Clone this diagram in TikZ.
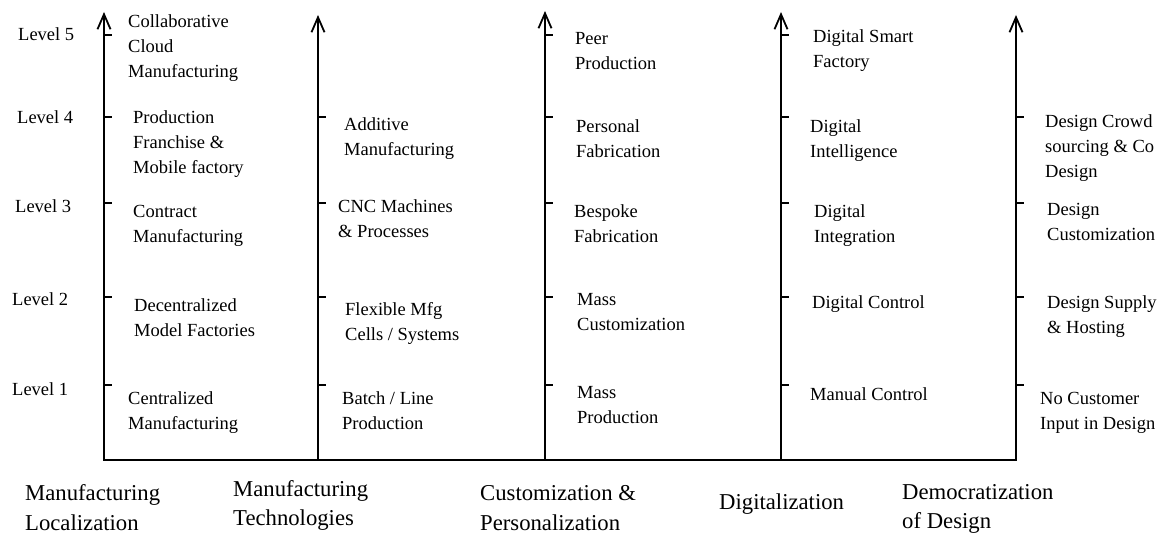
\documentclass[tikz,border=0pt]{standalone}
\usepackage{fontspec}
\setmainfont{Liberation Serif}
\newfontfamily\tnr{Liberation Serif}
\usetikzlibrary{arrows.meta}
\newcommand\stk[2][25]{\vtop{\baselineskip=#1pt\lineskiplimit=-30pt\lineskip=0pt\halign{##\hfil\cr#2\cr}}}
\begin{document}
\begin{tikzpicture}[x=1pt,y=-1pt,
  axisline/.style={line width=1.8pt,-{Straight Barb[length=15pt,width=13pt]}},
  baseline axis/.style={line width=1.8pt,line cap=rect},
  tickmark/.style={line width=1.4pt},
  lbl/.style={anchor=base west,inner sep=0pt,font=\tnr\fontsize{18.5}{25}\selectfont},
  cat/.style={anchor=base west,inner sep=0pt,font=\tnr\fontsize{22.7}{30}\selectfont}]
\useasboundingbox (0,0) rectangle (1162,535);
% axes
\coordinate (b1) at (104,460); \coordinate (t1) at (104,12);
\coordinate (b2) at (318,460); \coordinate (t2) at (318,15);
\coordinate (b3) at (545,460); \coordinate (t3) at (545,11);
\coordinate (b4) at (781,460); \coordinate (t4) at (781,12);
\coordinate (b5) at (1016,460); \coordinate (t5) at (1016,15);
\draw[baseline axis] (b1) -- (b5);
\foreach \i in {1,...,5}{\draw[axisline] (b\i) -- (t\i);}
% ticks
\foreach \y in {35,117,203,297,385}{\draw[tickmark] (b1 |- 0,\y) -- ++(8,0);}
\foreach \y in {117,203,297,385}{\draw[tickmark] (b2 |- 0,\y) -- ++(8,0);}
\foreach \y in {35,117,203,297,385}{\draw[tickmark] (b3 |- 0,\y) -- ++(8,0);}
\foreach \y in {35,117,203,297,385}{\draw[tickmark] (b4 |- 0,\y) -- ++(8,0);}
\foreach \y in {117,203,297,385}{\draw[tickmark] (b5 |- 0,\y) -- ++(8,0);}
% level labels
\node[lbl] (l5) at (18,41) {Level 5};
\node[lbl] (l4) at (17,123) {Level 4};
\node[lbl] (l3) at (15,212) {Level 3};
\node[lbl] (l2) at (12,305) {Level 2};
\node[lbl] (l1) at (12,395) {Level 1};
% column 1
\node[lbl] (a5) at (128,28) {\stk{Collaborative\cr Cloud\cr Manufacturing}};
\node[lbl] (a4) at (133,123) {\stk{Production\cr Franchise \&\cr Mobile factory}};
\node[lbl] (a3) at (133,217) {\stk{Contract\cr Manufacturing}};
\node[lbl] (a2) at (134,311) {\stk{Decentralized\cr Model Factories}};
\node[lbl] (a1) at (128,404) {\stk{Centralized\cr Manufacturing}};
% column 2
\node[lbl] (c4) at (344,130) {\stk{Additive\cr Manufacturing}};
\node[lbl] (c3) at (338,212) {\stk{CNC Machines\cr \& Processes}};
\node[lbl] (c2) at (345,315) {\stk{Flexible Mfg\cr Cells / Systems}};
\node[lbl] (c1) at (342,404) {\stk{Batch / Line\cr Production}};
% column 3
\node[lbl] (d5) at (575,45) {\stk{Peer\cr Production}};
\node[lbl] (d4) at (576,132) {\stk{Personal\cr Fabrication}};
\node[lbl] (d3) at (574,217) {\stk{Bespoke\cr Fabrication}};
\node[lbl] (d2) at (577,305) {\stk{Mass\cr Customization}};
\node[lbl] (d1) at (577,398) {\stk{Mass\cr Production}};
% column 4
\node[lbl] (e5) at (813,43) {\stk{Digital Smart\cr Factory}};
\node[lbl] (e4) at (810,132) {\stk{Digital\cr Intelligence}};
\node[lbl] (e3) at (814,217) {\stk{Digital\cr Integration}};
\node[lbl] (e2) at (812,308) {Digital Control};
\node[lbl] (e1) at (810,400) {Manual Control};
% column 5
\node[lbl] (f4) at (1045,127) {\stk{Design Crowd\cr sourcing \& Co\cr Design}};
\node[lbl] (f3) at (1047,215) {\stk{Design\cr Customization}};
\node[lbl] (f2) at (1047,308) {\stk{Design Supply\cr \& Hosting}};
\node[lbl] (f1) at (1040,404) {\stk{No Customer\cr Input in Design}};
% categories
\node[cat] (k1) at (25,500) {\stk[30]{Manufacturing\cr Localization}};
\node[cat] (k2) at (233,496) {\stk[29]{Manufacturing\cr Technologies}};
\node[cat] (k3) at (480,500) {\stk[30]{Customization \&\cr Personalization}};
\node[cat] (k4) at (719,509) {Digitalization};
\node[cat] (k5) at (902,499) {\stk[29]{Democratization\cr of Design}};
\end{tikzpicture}
\end{document}
